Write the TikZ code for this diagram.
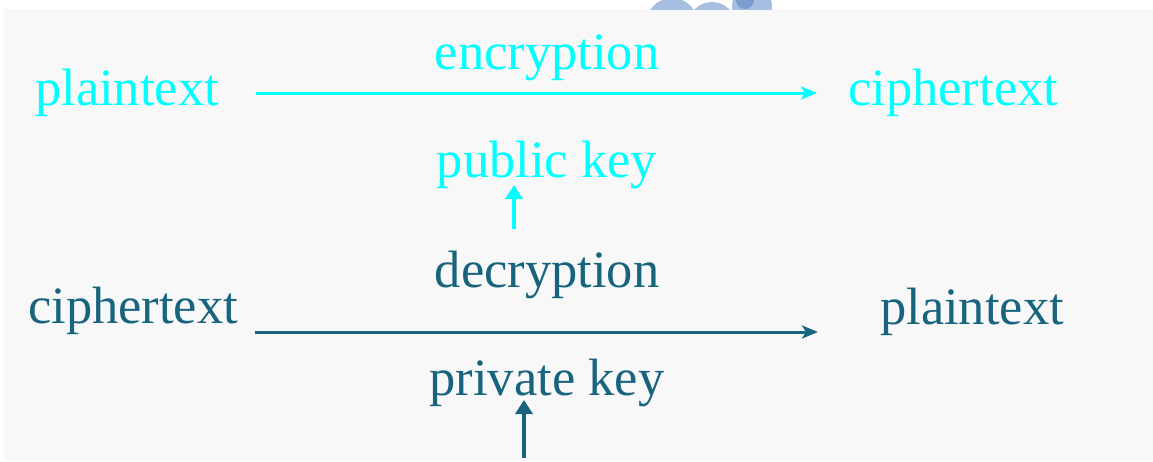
\documentclass[tikz,border=0pt]{standalone}
\usepackage{fontspec}
\setmainfont{Liberation Serif}
\usetikzlibrary{arrows.meta}
\definecolor{cya}{RGB}{0,255,255}
\definecolor{teal2}{RGB}{24,100,126}
\definecolor{panel}{RGB}{248,248,248}
\definecolor{logoA}{RGB}{166,190,223}
\definecolor{logoB}{RGB}{122,156,207}
\tikzset{
  lbl/.style={inner sep=0pt, font=\fontsize{52.5}{60}\selectfont},
  harr/.style={line width=3pt, -{Stealth[length=16pt, width=13pt, inset=4pt]}},
  varr/.style={line width=4.5pt, -{Triangle[length=14pt, width=17pt]}},
}
\begin{document}
\begin{tikzpicture}[x=1pt, y=-1pt]
\useasboundingbox (0,0) rectangle (1153,461);
\fill[white] (0,0) rectangle (1153,461);
\fill[panel] (4,9) rectangle (1153,461);
% logo fragment
\begin{scope}
\clip (600,0) rectangle (800,9);
\fill[logoA] (672,24) circle (26);
\fill[logoA] (712,26) circle (24);
\fill[logoA] (752,6) circle (20);
\fill[logoB] (745,0) circle (9);
\end{scope}
% top row
\node[lbl, text=cya, anchor=base west] (ptA) at (35,105) {plaintext};
\node[lbl, text=cya, anchor=base west] (ctA) at (848,105) {ciphertext};
\node[lbl, text=cya, anchor=base] (enc) at (547,69) {encryption};
\node[lbl, text=cya, anchor=base] (pub) at (547,177) {public key};
\path (ptA.base east) ++(37,-12) coordinate (a1);
\path (ctA.base west) ++(-31,-12) coordinate (a2);
\draw[harr, cya] (a1) -- (a2);
\coordinate (k1) at (514,229);
\coordinate (k2) at (514,185);
\draw[varr, cya] (k1) -- (k2);
% bottom row
\node[lbl, text=teal2, anchor=base west] (ctB) at (28,323) {ciphertext};
\node[lbl, text=teal2, anchor=base west] (ptB) at (880,324) {plaintext};
\node[lbl, text=teal2, anchor=base] (dec) at (547,287) {decryption};
\node[lbl, text=teal2, anchor=base] (prv) at (547,395) {private key};
\coordinate (b1) at (255,332);
\coordinate (b2) at (818,332);
\draw[harr, teal2] (b1) -- (b2);
\coordinate (k3) at (524,458);
\coordinate (k4) at (524,400);
\draw[varr, teal2] (k3) -- (k4);
\end{tikzpicture}
\end{document}
